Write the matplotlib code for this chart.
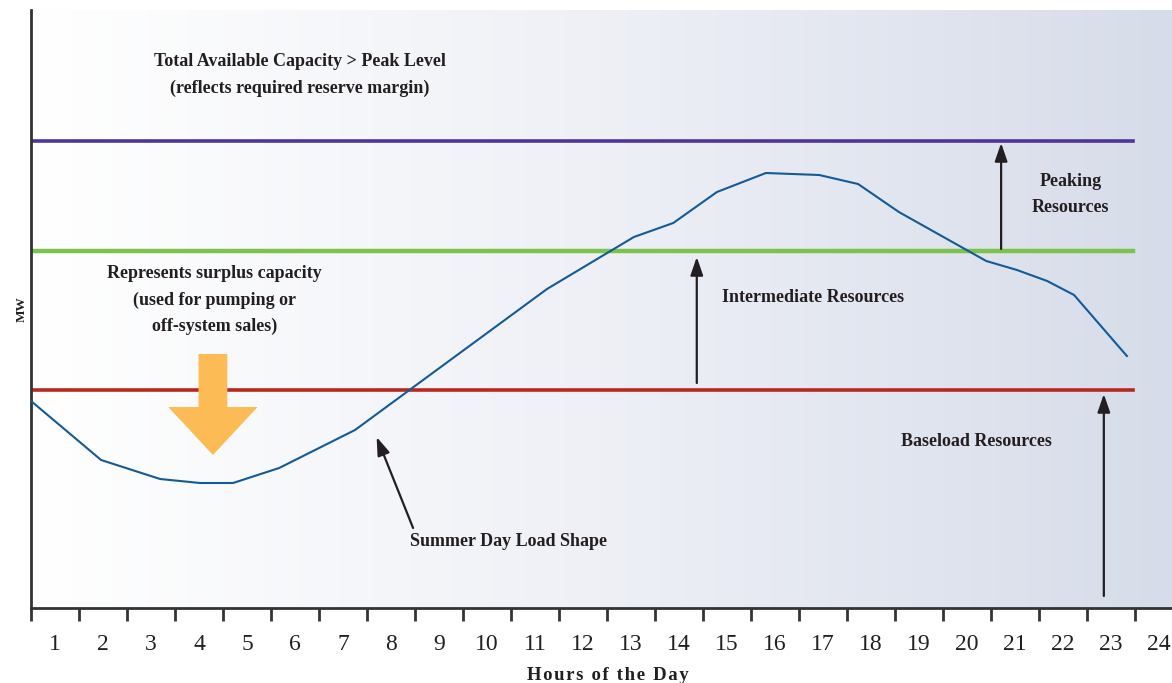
import numpy as np
import matplotlib.pyplot as plt
from matplotlib.colors import LinearSegmentedColormap
from matplotlib.patches import Polygon

# Summer day load shape (hours, MW in arbitrary units)
load_hours = [0.0, 1.46, 2.69, 3.52, 4.21, 5.17, 6.75, 10.75, 12.56, 13.38,
              14.29, 15.31, 16.42, 17.23, 18.08, 19.9, 20.54, 21.17, 21.73, 22.83]
load_mw = [207, 148, 129, 125, 125, 140, 178, 319, 371, 385,
           416, 435, 433, 424, 396, 347, 338, 327, 313, 252]

# resource levels
peak_level = 467
intermediate_level = 357
baseload_level = 218
line_end = 22.95

hour_labels = [str(h) for h in range(1, 25)]

serif = ['Liberation Serif', 'DejaVu Serif']
txt = '#231f20'

fig = plt.figure(figsize=(11.72, 6.83), dpi=100)
ax = fig.add_axes([31 / 1172, 75 / 683, 1 - 31 / 1172, 598 / 683])
ax.set_xlim(0, 23.77)
ax.set_ylim(0, 598)

# background gradient
cmap = LinearSegmentedColormap.from_list('bg', ['#ffffff', '#eef0f6', '#d6dce9'])
grad = np.linspace(0, 1, 256).reshape(1, -1)
ax.imshow(grad, cmap=cmap, aspect='auto', extent=[0, 23.77, 0, 598], zorder=0)

# capacity lines
ax.plot([0, line_end], [peak_level, peak_level], color='#4f3595', lw=2.6, zorder=2)
ax.plot([0, line_end], [intermediate_level, intermediate_level], color='#7cc24c', lw=3.2, zorder=2)
ax.plot([0, line_end], [baseload_level, baseload_level], color='#b8281e', lw=2.6, zorder=2)

# load curve
ax.plot(load_hours, load_mw, color='#135a96', lw=1.5, zorder=3)

# arrows
arr = dict(arrowstyle='-|>,head_length=1.1,head_width=0.38', color='#231f20', lw=1.6,
           shrinkA=0, shrinkB=0)
ax.annotate('', xy=(20.21, peak_level - 2), xytext=(20.21, intermediate_level + 2), arrowprops=arr)
ax.annotate('', xy=(13.87, intermediate_level - 6), xytext=(13.87, 225), arrowprops=arr)
ax.annotate('', xy=(22.35, baseload_level - 4), xytext=(22.35, 12), arrowprops=arr)
ax.annotate('', xy=(7.2, 171), xytext=(7.96, 80), arrowprops=arr)

# surplus capacity arrow
sx, sw, hw = 3.79, 0.30, 0.93
fat = Polygon([(sx - sw, 254), (sx + sw, 254), (sx + sw, 201), (sx + hw, 201),
               (sx, 153), (sx - hw, 201), (sx - sw, 201)],
              closed=True, facecolor='#fdbb55', edgecolor='none', zorder=4)
ax.add_patch(fat)

# labels
tk = dict(family=serif, color=txt, fontweight='bold', fontsize=13, ha='center', va='center')
ax.text(5.6, 547, 'Total Available Capacity > Peak Level', **tk)
ax.text(5.6, 520, '(reflects required reserve margin)', **tk)
ax.text(3.83, 335, 'Represents surplus capacity', **tk)
ax.text(3.83, 308, '(used for pumping or', **tk)
ax.text(3.83, 282, 'off-system sales)', **tk)
ax.text(21.65, 427, 'Peaking', **tk)
ax.text(21.65, 401, 'Resources', **tk)
ax.text(16.3, 310, 'Intermediate Resources', **tk)
ax.text(19.7, 166, 'Baseload Resources', **tk)
ax.text(9.95, 67, 'Summer Day Load Shape', **tk)

# axes styling
for s in ['top', 'right']:
    ax.spines[s].set_visible(False)
ax.spines['left'].set_color('#333333')
ax.spines['bottom'].set_color('#333333')
ax.spines['left'].set_linewidth(2)
ax.spines['bottom'].set_linewidth(2)

ax.set_yticks([])
ax.set_xticks(np.arange(0, 24))
ax.set_xticklabels([])
ax.set_xticks(np.arange(0.5, 24, 1), minor=True)
ax.set_xticklabels(hour_labels, minor=True, family=serif, fontsize=17, color=txt)
ax.tick_params(axis='x', which='major', direction='out', length=9, width=2, color='#333333')
ax.tick_params(axis='x', which='minor', length=0, pad=19)

xlabel = '\u200a'.join('Hours of the Day')
ax.set_xlabel(xlabel, family=serif, fontweight='bold', fontsize=13.5,
              color=txt, labelpad=8, x=(608 - 31) / 1141)
ax.set_ylabel('MW', family=serif, fontweight='bold', fontsize=9.5, color=txt, labelpad=2)

fig.savefig('out.png', dpi=100)
